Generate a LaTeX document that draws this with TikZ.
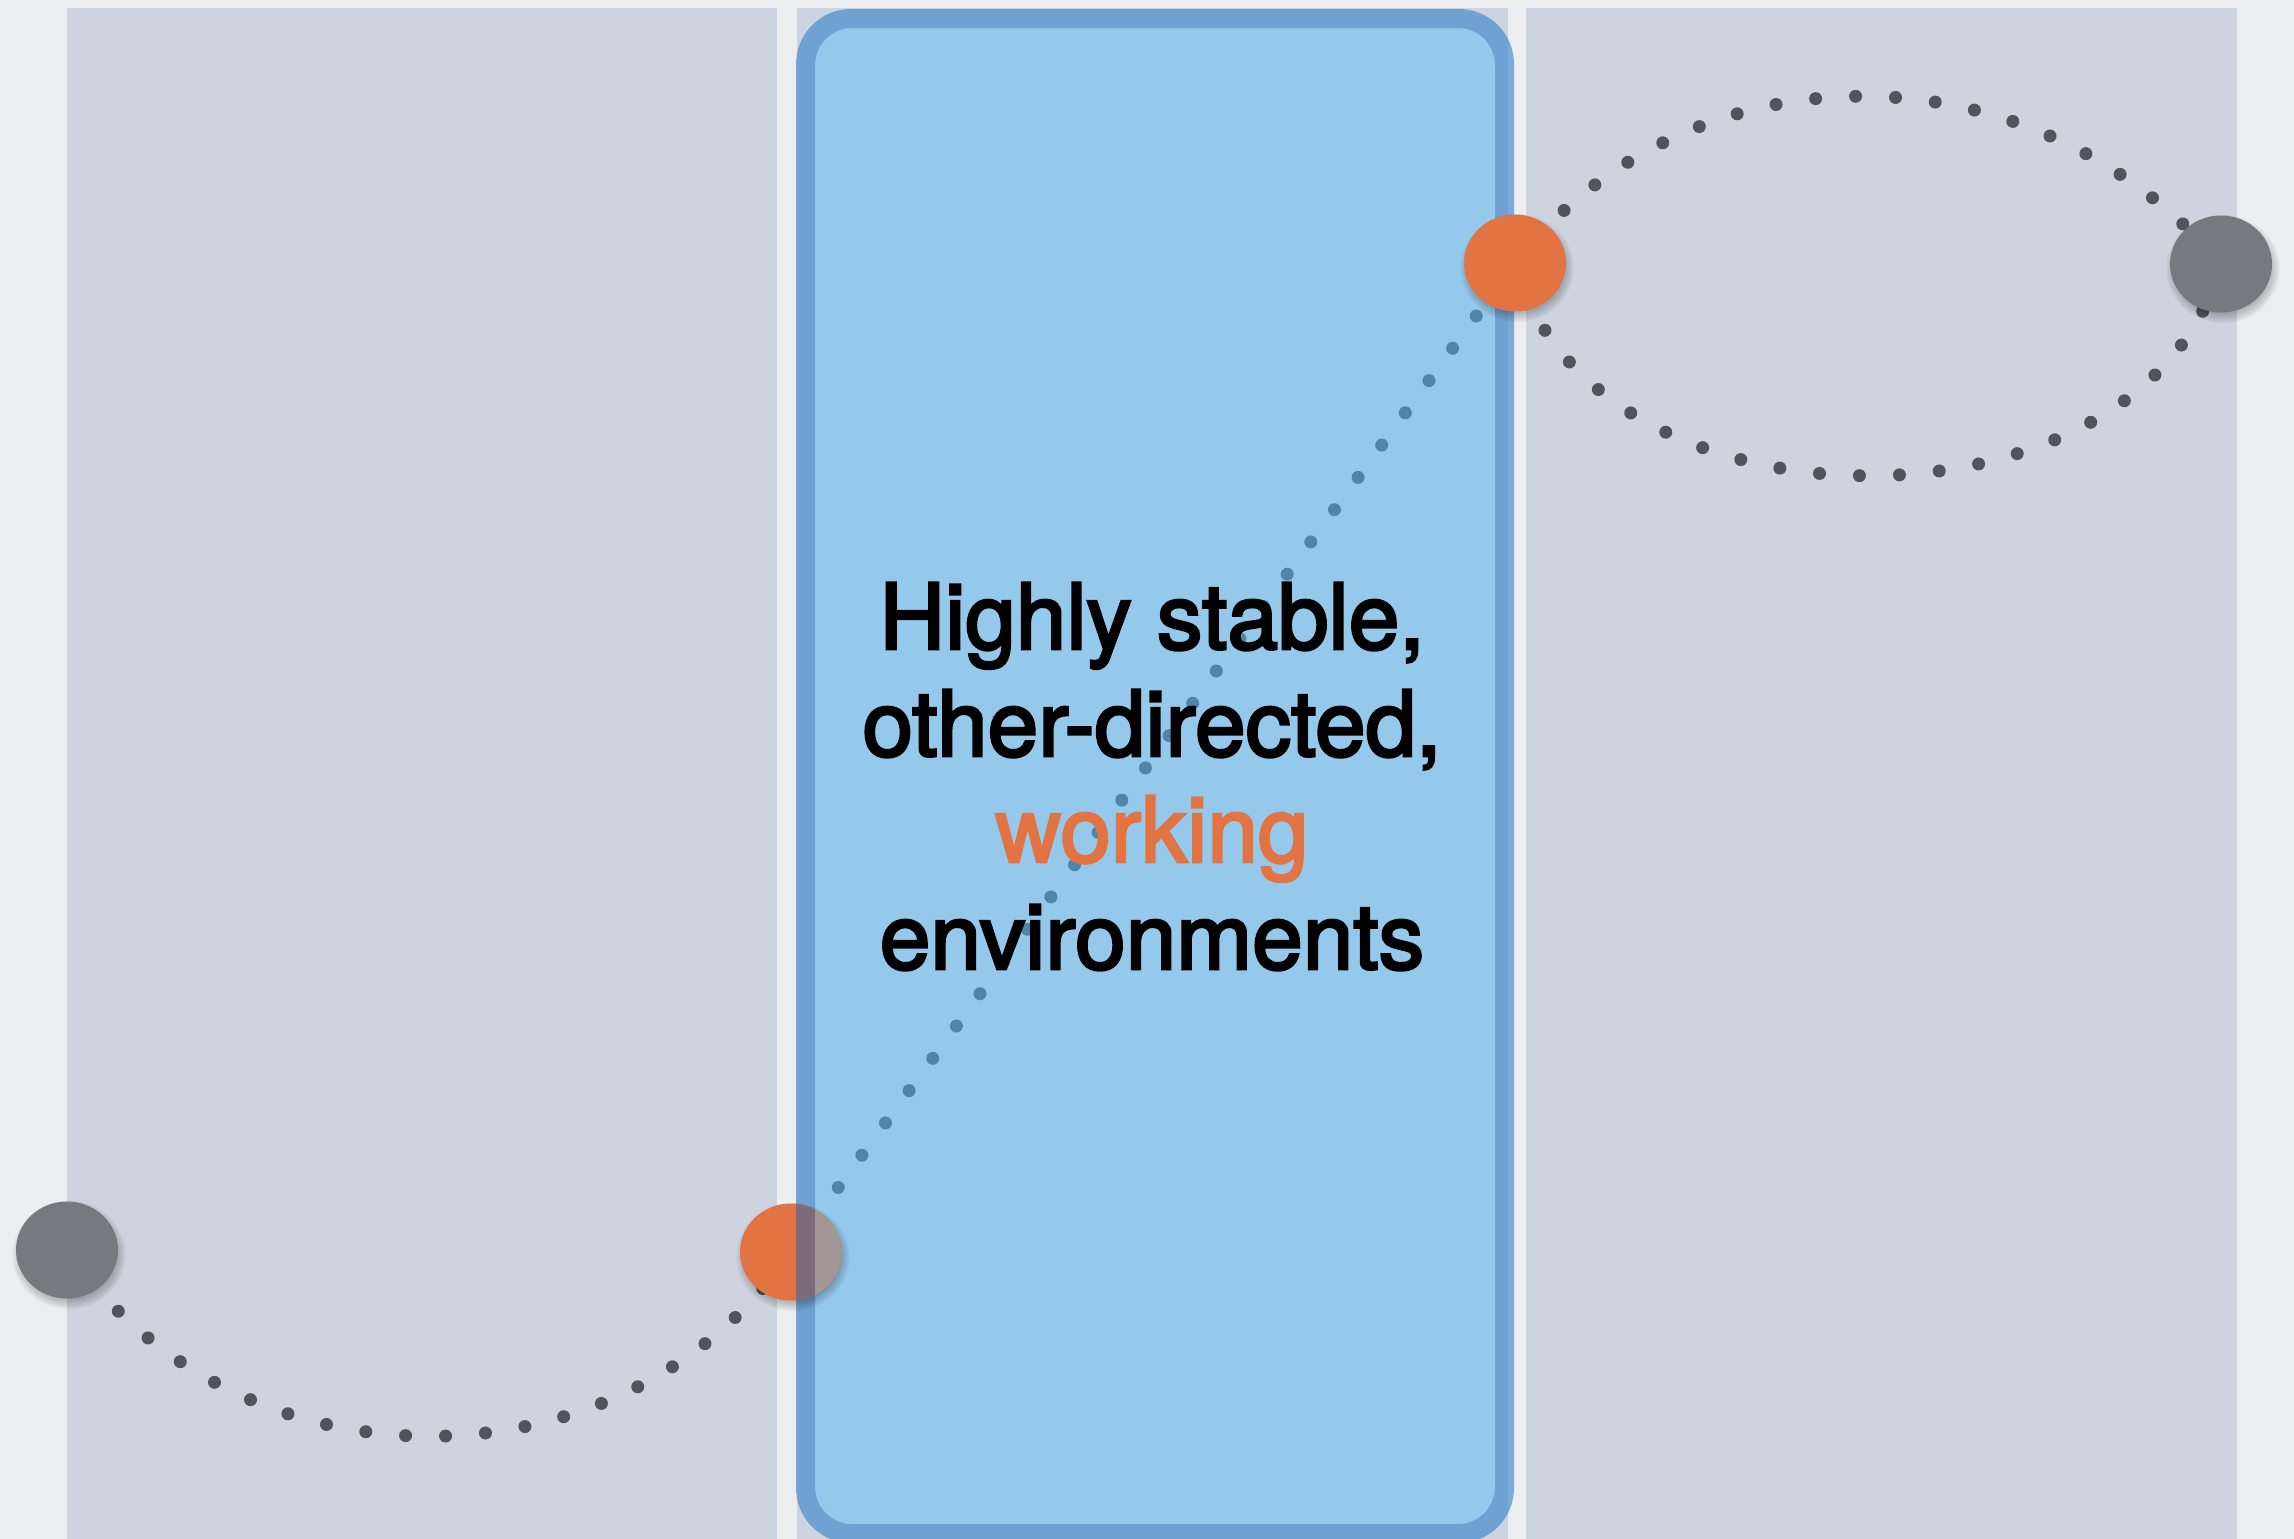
\documentclass[tikz,border=0pt]{standalone}
\usepackage{fontspec}
\setmainfont{TeX Gyre Heros}
\newfontfamily\capfont{TeX Gyre Heros}[FakeBold=3]
\usetikzlibrary{shapes.geometric}
\definecolor{bgc}{HTML}{ECEEF0}
\definecolor{colc}{HTML}{CDD4DF}
\definecolor{boxfill}{HTML}{95C9EC}
\definecolor{boxline}{RGB}{59,134,204}
\definecolor{orangec}{HTML}{E27342}
\definecolor{grayc}{HTML}{76797E}
\definecolor{dotc}{HTML}{50555D}
\definecolor{dotblue}{HTML}{4F86A8}
\definecolor{mauveA}{HTML}{7D6B7B}
\definecolor{mauveB}{HTML}{A39697}
\definecolor{textc}{HTML}{000000}
\pgfdeclarelayer{back}
\pgfdeclarelayer{front}
\pgfsetlayers{back,main,front}
\newcommand\softshade[1]{%
  \foreach \k in {0,...,7}{%
    \fill[black,opacity=0.045] ([shift={(2,5)}]#1) ellipse [x radius={44+\k*1.8}, y radius={41.5+\k*1.8}];
  }%
}
\begin{document}
\begin{tikzpicture}[x=1pt,y=-1pt,
  bubble/.style={ellipse, minimum width=102pt, minimum height=97pt, inner sep=0pt, draw=none},
  dotline/.style={line width=13pt, line cap=round, dash pattern=on 0pt off 40pt},
  caption/.style={font=\capfont\fontsize{91}{107}\selectfont, anchor=base, inner sep=0pt, text=textc}]
\useasboundingbox (0,0) rectangle (2294,1539);

\begin{pgfonlayer}{back}
  \fill[bgc] (0,0) rectangle (2294,1539);
  \fill[colc] (67,8) rectangle (777,1539);
  \fill[colc] (797,8) rectangle (1508,1539);
  \fill[colc] (1526,8) rectangle (2237,1539);
  % box
  \fill[boxfill, rounded corners=37pt] (815,28) rectangle (1495,1524);
  \fill[boxline, opacity=0.645, even odd rule, rounded corners=55pt] (796,9) rectangle (1514,1543)
       [rounded corners=37pt] (815,28) rectangle (1495,1524);
\end{pgfonlayer}

\begin{pgfonlayer}{front}
  \coordinate (pg1) at (67,1250);
  \coordinate (po1) at (791,1252);
  \coordinate (po2) at (1515,263);
  \coordinate (pg2) at (2221,264);
  \softshade{pg1}
  \node[bubble, fill=grayc] (g1) at (pg1) {};
  \softshade{po1}
  \node[bubble, fill=orangec] (o1) at (po1) {};
  \begin{scope}
    \clip (po1) ellipse [x radius=51, y radius=48.5];
    \fill[mauveA] (796,1190) rectangle (815,1320);
    \fill[mauveB] (815,1190) rectangle (870,1320);
  \end{scope}
  \softshade{po2}
  \node[bubble, fill=orangec] (o2) at (po2) {};
  \softshade{pg2}
  \node[bubble, fill=grayc] (g2) at (pg2) {};

  \node[caption] (t1) at (1152,649) {Highly stable,};
  \node[caption] (t2) at (1152,756) {other-directed,};
  \node[caption, text=orangec] (t3) at (1152,862) {working};
  \node[caption] (t4) at (1152,969) {environments};
\end{pgfonlayer}

% connectors
\draw[dotline, dotc] (g1.center) .. controls (237,1497) and (621,1499) .. (o1.center);
\draw[dotline, dotblue] (o1.center) -- (o2.center);
\draw[dotline, dotc, dash phase=8pt] (o2.center) .. controls (1692,40) and (2031,41) .. (g2.center);
\draw[dotline, dotc, dash phase=6pt] (o2.center) .. controls (1591,546) and (2145,547) .. (g2.center);
\end{tikzpicture}
\end{document}
